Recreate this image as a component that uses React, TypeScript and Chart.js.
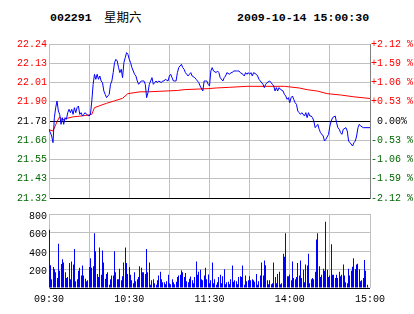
import React, { useEffect, useRef } from "react";
import { Chart, registerables } from "chart.js";

Chart.register(...registerables);

const stockCode = "002291";
const weekday = "星期六";
const timestamp = "2009-10-14 15:00:30";

const prevClose = 21.78;
const pctStep = 0.53;
const priceTickLabels = ["21.32", "21.43", "21.55", "21.66", "21.78", "21.90", "22.01", "22.13", "22.24"];
const pctTickLabels = ["-2.12 %", "-1.59 %", "-1.06 %", "-0.53 %", " 0.00%", "+0.53 %", "+1.06 %", "+1.59 %", "+2.12 %"];
const timeLabels = ["09:30", "10:30", "11:30", "14:00", "15:00"];
const volumeMax = 800;
const volumeStep = 200;

const priceMinutes = [
  0, 2, 3, 4, 5, 6, 7, 8, 9, 10, 11, 12, 13, 14, 15, 16, 17, 18, 19, 20,
  21, 22, 23, 24, 25, 26, 27, 28, 30, 31, 32, 33, 34, 35, 36, 37, 38, 39, 40, 41,
  42, 43, 45, 46, 47, 48, 49, 50, 51, 52, 53, 54, 55, 56, 57, 58, 59, 60, 61, 62,
  63, 64, 65, 66, 67, 69, 70, 71, 72, 73, 74, 75, 76, 77, 78, 79, 80, 81, 82, 84,
  85, 86, 87, 89, 90, 91, 92, 93, 94, 95, 96, 97, 99, 100, 101, 102, 104, 105, 106, 107,
  109, 110, 111, 112, 113, 115, 116, 117, 118, 119, 120, 121, 122, 123, 125, 126, 127, 128, 130, 131,
  132, 133, 135, 136, 137, 138, 140, 141, 142, 143, 145, 146, 147, 148, 149, 150, 151, 152, 153, 155,
  156, 157, 158, 160, 161, 162, 163, 165, 166, 167, 168, 169, 170, 171, 172, 173, 175, 176, 177, 178,
  179, 180, 181, 182, 183, 184, 185, 186, 187, 188, 189, 191, 192, 193, 194, 195, 196, 197, 198, 199,
  200, 201, 202, 203, 205, 206, 207, 209, 210, 211, 212, 214, 215, 216, 217, 218, 219, 220, 222, 223,
  224, 225, 227, 228, 229, 230, 231, 232, 233, 235, 237, 240,
];
const prices = [
  21.73, 21.69, 21.65, 21.80, 21.86, 21.90, 21.84, 21.82, 21.76, 21.80, 21.76, 21.80, 21.79, 21.83, 21.85, 21.83, 21.85, 21.82, 21.86, 21.83,
  21.86, 21.87, 21.82, 21.83, 21.81, 21.82, 21.83, 21.82, 21.81, 21.82, 21.90, 22.00, 22.06, 22.03, 22.06, 22.03, 22.05, 22.02, 22.01, 21.96,
  21.94, 21.92, 21.94, 22.00, 22.02, 22.07, 22.13, 22.15, 22.14, 22.10, 22.07, 22.09, 22.04, 22.13, 22.16, 22.19, 22.18, 22.15, 22.13, 22.10,
  22.08, 22.06, 22.05, 22.02, 22.00, 22.02, 22.02, 22.02, 22.00, 21.92, 21.95, 22.00, 22.02, 22.04, 22.00, 22.01, 22.02, 22.01, 22.02, 22.01,
  22.02, 22.02, 22.03, 22.02, 22.05, 22.06, 22.04, 22.02, 22.02, 22.02, 22.07, 22.10, 22.12, 22.10, 22.09, 22.07, 22.05, 22.06, 22.07, 22.05,
  22.04, 22.03, 22.02, 22.01, 21.99, 21.96, 22.02, 22.02, 22.02, 22.00, 21.99, 22.08, 22.10, 22.08, 22.07, 22.08, 22.07, 22.04, 22.02, 22.04,
  22.05, 22.07, 22.06, 22.07, 22.07, 22.08, 22.08, 22.08, 22.08, 22.07, 22.06, 22.05, 22.07, 22.06, 22.07, 22.06, 22.07, 22.05, 22.07, 22.06,
  22.05, 22.03, 22.02, 22.00, 21.98, 22.00, 22.01, 22.02, 22.01, 22.00, 21.99, 21.96, 21.98, 21.96, 21.98, 21.97, 21.96, 21.94, 21.93, 21.91,
  21.92, 21.89, 21.92, 21.93, 21.91, 21.89, 21.88, 21.84, 21.83, 21.82, 21.83, 21.81, 21.83, 21.80, 21.83, 21.81, 21.81, 21.80, 21.78, 21.74,
  21.75, 21.76, 21.73, 21.71, 21.69, 21.66, 21.67, 21.70, 21.75, 21.78, 21.80, 21.81, 21.77, 21.74, 21.73, 21.71, 21.70, 21.73, 21.74, 21.72,
  21.66, 21.65, 21.63, 21.65, 21.66, 21.69, 21.74, 21.76, 21.75, 21.74, 21.74, 21.74,
];

const avgMinutes = [0, 3, 6, 8, 10, 13, 18, 23, 29, 32, 34, 38, 43, 49, 55, 59, 68, 74, 96, 101, 119, 125, 135, 148, 176, 187, 193, 201, 208, 218, 228, 240];
const avgPrices = [
  21.728, 21.72, 21.776, 21.805, 21.786, 21.795, 21.805, 21.809, 21.815, 21.82, 21.86, 21.872, 21.886, 21.901, 21.916, 21.944,
  21.955, 21.955, 21.963, 21.968, 21.974, 21.978, 21.982, 21.988, 21.988, 21.978, 21.968, 21.959, 21.944, 21.936, 21.925, 21.915,
];

const volumes = [
  631, 246, 95, 226, 203, 169, 108, 479, 186, 260,
  311, 277, 169, 108, 118, 270, 95, 287, 253, 422,
  74, 95, 186, 219, 135, 243, 135, 101, 74, 84,
  226, 321, 219, 236, 591, 398, 152, 118, 439, 142,
  405, 277, 101, 152, 169, 34, 95, 135, 135, 398,
  169, 95, 95, 209, 84, 128, 277, 439, 270, 152,
  226, 142, 84, 51, 169, 74, 95, 118, 236, 219,
  169, 169, 152, 422, 169, 277, 34, 84, 95, 51,
  34,
  84, 135, 176, 95, 61, 61, 40, 74, 142, 51,
  40, 95, 61, 40, 68, 118, 135, 142, 192, 169,
  118, 162, 74, 61, 101, 125, 84, 51, 118, 287,
  142, 176, 196, 95, 84, 135, 219, 95, 145, 51,
  84, 277, 51, 95, 34, 61, 118, 142, 51, 128,
  203, 40, 61, 68, 40, 95, 243, 68, 84, 74,
  40, 118, 128, 118, 243, 34, 135, 74, 84, 128,
  84, 95, 84, 68, 152, 34, 74, 135, 277, 135,
  297, 246, 84, 40, 84, 40, 51, 277, 118, 51,
  152, 176, 40, 51, 371, 338, 591, 128, 128, 145,
  84, 287, 108, 95, 118, 270, 135, 297, 108, 196,
  61, 253, 243, 371, 51, 95, 108, 95, 176, 523,
  591, 236, 118, 142, 209, 186, 716, 196, 118, 135,
  473, 142, 142, 108, 142, 108, 176, 128, 142, 253,
  135, 61, 51, 209, 135, 186, 230, 321, 203, 253,
  263, 203, 74, 84, 108, 304, 186, 34, 7, 226,
];

const BLUE = "#0000FF";
const RED = "#FF0000";
const GREEN = "#006600";
const BLACK = "#000000";
const GRID = "#C0C0C0";
const AXIS_GREY = "#808080";
const MONO = "'Liberation Mono', 'DejaVu Sans Mono', monospace";

function labelColor(i: number) {
  return i > 4 ? RED : i < 4 ? GREEN : BLACK;
}

// snaps the library-computed bar centres onto the pixel grid so 1px bars stay crisp
const snapBars = {
  id: "snapBars",
  beforeDatasetsDraw(chart: any) {
    chart.getSortedVisibleDatasetMetas().forEach((meta: any) => {
      meta.data.forEach((el: any) => {
        el.x = Math.floor(el.x) + 0.5;
      });
    });
  },
};

function PriceChart() {
  const ref = useRef<HTMLCanvasElement>(null);
  useEffect(() => {
    const step = (prevClose * pctStep) / 100;
    const yMin = prevClose - 4 * step;
    const yMax = prevClose + 4 * step;
    const tickVals = priceTickLabels.map((_, i) => prevClose + (i - 4) * step);
    const chart = new Chart(ref.current!, {
      type: "line",
      data: {
        datasets: [
          {
            data: priceMinutes.map((m, i) => ({ x: m, y: prices[i] })),
            borderColor: BLUE,
            borderWidth: 1,
            pointRadius: 0,
            tension: 0,
          },
          {
            data: avgMinutes.map((m, i) => ({ x: m, y: avgPrices[i] })),
            borderColor: RED,
            borderWidth: 1,
            pointRadius: 0,
            tension: 0,
          },
        ],
      },
      options: {
        animation: false,
        responsive: false,
        events: [],
        layout: { padding: { top: 44, bottom: 3, left: 0, right: 0 } },
        plugins: { legend: { display: false }, tooltip: { enabled: false } },
        scales: {
          x: {
            type: "linear",
            min: 0,
            max: 240,
            ticks: { display: false, stepSize: 30 },
            grid: { color: (c: any) => (c.tick && c.tick.value === 240 ? AXIS_GREY : GRID), drawTicks: false },
            border: { display: false },
            afterFit: (s: any) => {
              s.height = 0;
            },
          },
          y: {
            position: "left",
            min: yMin,
            max: yMax,
            afterBuildTicks: (s: any) => {
              s.ticks = tickVals.map((v) => ({ value: v }));
            },
            afterFit: (s: any) => {
              s.width = 49;
            },
            ticks: {
              padding: 2,
              font: { family: MONO, size: 10 },
              color: (c: any) => labelColor(c.index),
              callback: (_v: any, i: number) => priceTickLabels[i],
            },
            grid: { color: (c: any) => (c.index === 4 || c.index === 0 ? BLACK : GRID), drawTicks: false },
            border: { color: GRID },
          },
          y2: {
            position: "right",
            min: yMin,
            max: yMax,
            afterBuildTicks: (s: any) => {
              s.ticks = tickVals.map((v) => ({ value: v }));
            },
            afterFit: (s: any) => {
              s.width = 44;
            },
            ticks: {
              padding: 1,
              font: { family: MONO, size: 10 },
              color: (c: any) => labelColor(c.index),
              callback: (_v: any, i: number) => pctTickLabels[i],
            },
            grid: { drawOnChartArea: false, drawTicks: false },
            border: { color: AXIS_GREY },
          },
        },
      },
    } as any);
    return () => chart.destroy();
  }, []);
  return <canvas ref={ref} width={414} height={206} style={{ position: "absolute", left: 0, top: 0, display: "block" }} />;
}

function VolumeChart() {
  const ref = useRef<HTMLCanvasElement>(null);
  useEffect(() => {
    const chart = new Chart(ref.current!, {
      type: "bar",
      data: {
        datasets: [
          {
            data: volumes.map((v, i) => ({ x: i, y: v })),
            backgroundColor: BLUE,
            borderWidth: 0,
            barThickness: 1,
            inflateAmount: 0,
          },
        ],
      },
      plugins: [snapBars],
      options: {
        animation: false,
        responsive: false,
        events: [],
        layout: { padding: { top: 3, bottom: 0, left: 0, right: 44 } },
        plugins: { legend: { display: false }, tooltip: { enabled: false } },
        scales: {
          x: {
            type: "linear",
            min: 0,
            max: 240,
            offset: false,
            ticks: {
              stepSize: 30,
              autoSkip: false,
              maxRotation: 0,
              padding: 5,
              font: { family: MONO, size: 10 },
              color: BLACK,
              callback: (v: any) => (v % 60 === 0 ? timeLabels[v / 60] : ""),
            },
            grid: { color: GRID, drawTicks: false, offset: false },
            border: { display: false },
            afterFit: (s: any) => {
              s.height = 26;
            },
          },
          y: {
            min: 0,
            max: volumeMax,
            ticks: {
              stepSize: volumeStep,
              padding: 2,
              labelOffset: 2,
              font: { family: MONO, size: 10 },
              color: BLACK,
              callback: (v: any) => (v === 0 ? "" : String(v)),
            },
            grid: { color: (c: any) => (c.tick && c.tick.value === 0 ? BLACK : GRID), drawTicks: false },
            border: { color: GRID },
            afterFit: (s: any) => {
              s.width = 49;
            },
          },
        },
      },
    } as any);
    return () => chart.destroy();
  }, []);
  return <canvas ref={ref} width={414} height={108} style={{ position: "absolute", left: 0, top: 206, display: "block" }} />;
}

export default function App() {
  const headStyle: React.CSSProperties = {
    position: "absolute",
    top: 12,
    fontFamily: MONO,
    fontWeight: "bold",
    fontSize: "11.6px",
    lineHeight: "12px",
    whiteSpace: "pre",
    color: BLACK,
  };
  return (
    <div style={{ position: "absolute", left: 0, top: 0, width: 414, height: 314, background: "#fff", overflow: "hidden" }}>
      <div style={{ ...headStyle, left: 50 }}>{stockCode}</div>
      <div
        style={{
          ...headStyle,
          left: 104,
          top: 10,
          fontFamily: "'Noto Sans CJK SC', sans-serif",
          fontWeight: "normal",
          fontSize: "12.5px",
          lineHeight: "14px",
        }}
      >
        {weekday}
      </div>
      <div style={{ ...headStyle, left: 237 }}>{timestamp}</div>
      <PriceChart />
      <VolumeChart />
    </div>
  );
}
